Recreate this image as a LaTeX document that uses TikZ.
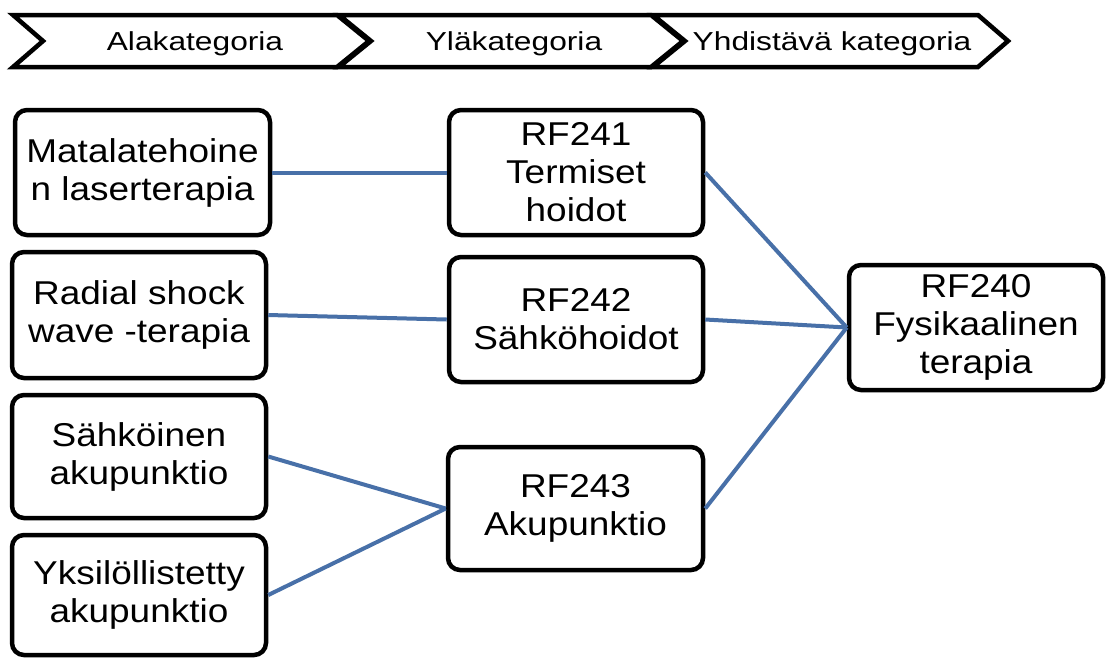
\documentclass[tikz,border=0pt]{standalone}
\usepackage{fontspec}
\setmainfont{Liberation Sans}[FakeStretch=1.12]
\newfontfamily\chevfont{Liberation Sans}[FakeStretch=1.22]
\definecolor{linkblue}{RGB}{72,112,168}
\begin{document}
\begin{tikzpicture}[x=1pt,y=-1pt,
  box/.style={draw=black, line width=4.5pt, rounded corners=12pt, fill=white,
    align=center, inner sep=0pt, minimum width=255pt, minimum height=125pt,
    font=\fontsize{33}{38}\selectfont},
  chev/.style={draw=black, line width=4.5pt, line join=miter, fill=white},
  chevtext/.style={font=\chevfont\fontsize{26}{30}\selectfont, anchor=base},
  link/.style={draw=linkblue, line width=4pt}]
\useasboundingbox (0,0) rectangle (1108,657);

% header chevrons
\path[chev] (13,15) -- (337,15) -- (369,41) -- (337,67) -- (13,67) -- (43,41) -- cycle;
\path[chev] (339,15) -- (651,15) -- (683,41) -- (651,67) -- (339,67) -- (371,41) -- cycle;
\path[chev] (653,15) -- (978,15) -- (1008,41) -- (978,67) -- (653,67) -- (685,41) -- cycle;
\node[chevtext] (h1) at (195,50) {Alakategoria};
\node[chevtext] (h2) at (514,50) {Yläkategoria};
\node[chevtext] (h3) at (832,50) {Yhdistävä kategoria};

% subcategories
\node[box] (low1) at (142.5,172.5) {Matalatehoine\\n laserterapia};
\node[box, minimum width=254pt, minimum height=126pt] (low2) at (139,315) {Radial shock\\wave -terapia};
\node[box, minimum width=254pt, minimum height=123pt] (low3) at (139,456.5) {Sähköinen\\akupunktio};
\node[box, minimum width=254pt, minimum height=120pt] (low4) at (139,595) {Yksilöllistetty\\akupunktio};

% upper categories
\node[box, minimum width=254pt] (rf241) at (576,172.5) {RF241\\Termiset\\hoidot};
\node[box, minimum width=254pt] (rf242) at (576,319.5) {RF242\\Sähköhoidot};
\node[box, minimum width=255pt, minimum height=123pt] (rf243) at (575.5,508.5) {RF243\\Akupunktio};

% combining category
\node[box, minimum width=254pt] (rf240) at (976,327.5) {RF240\\Fysikaalinen\\terapia};

% connectors
\draw[link] (low1.east) -- (rf241.west);
\draw[link] (low2.east) -- (rf242.west);
\draw[link] (low3.east) -- (rf243.west);
\draw[link] (low4.east) -- (rf243.west);
\draw[link] (rf241.east) -- (rf240.west);
\draw[link] (rf242.east) -- (rf240.west);
\draw[link] (rf243.east) -- (rf240.west);
\end{tikzpicture}
\end{document}
